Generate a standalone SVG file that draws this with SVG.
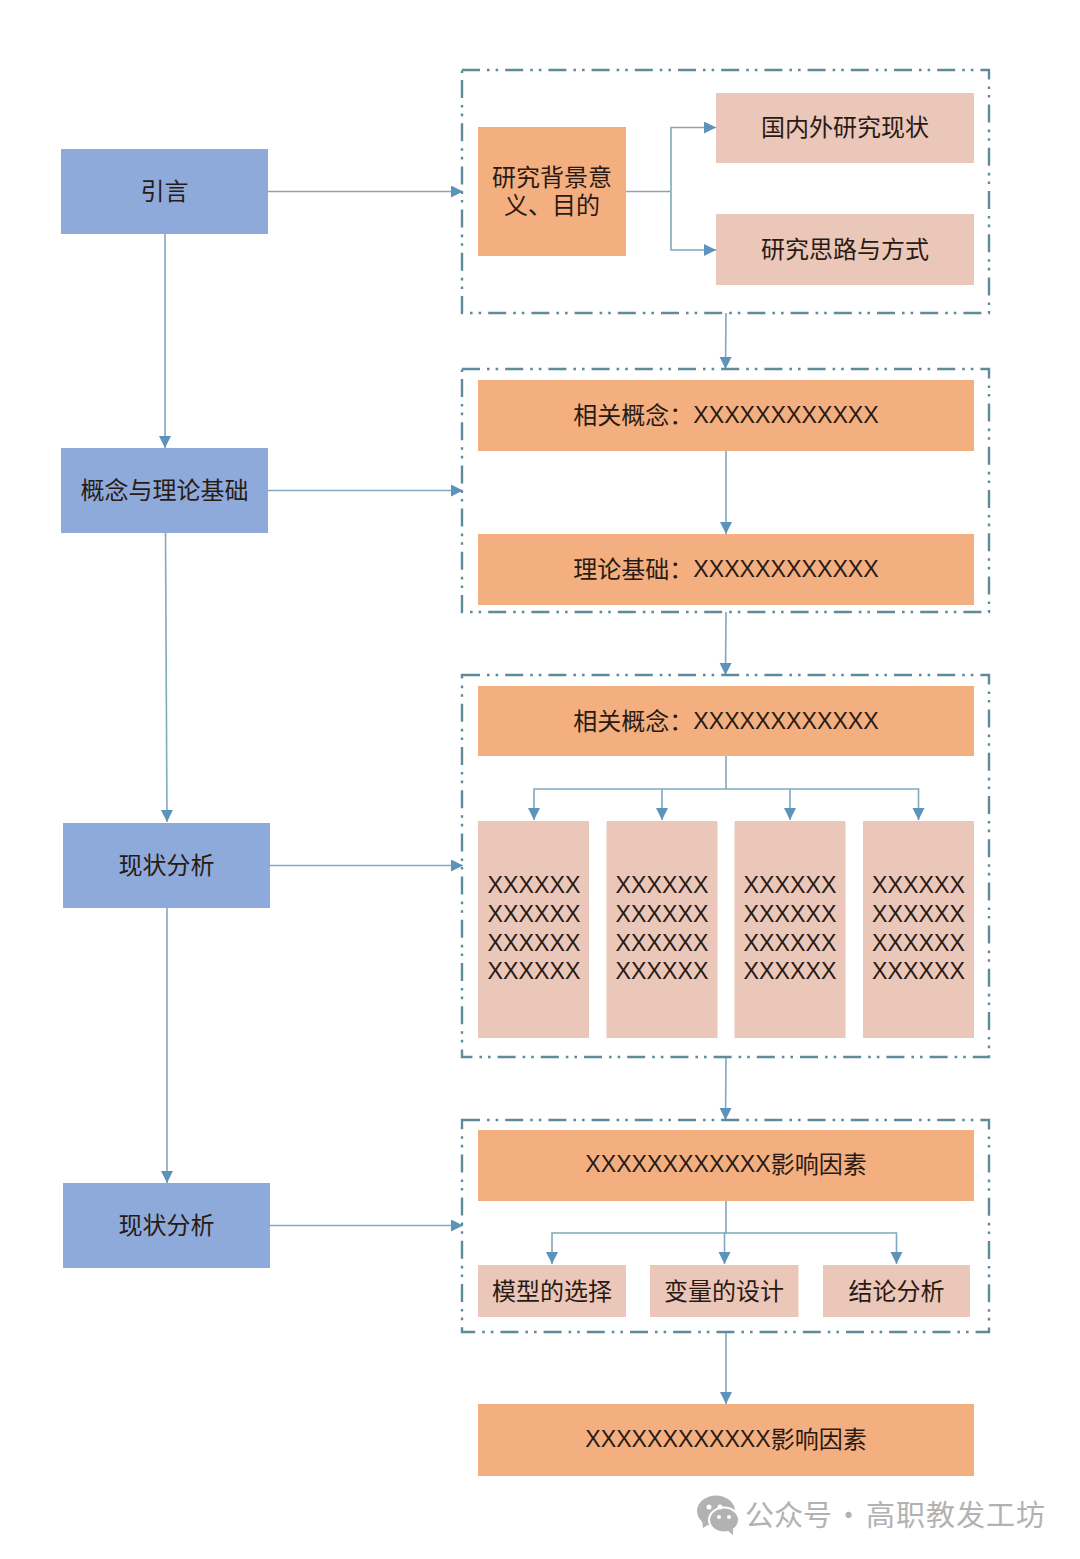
<svg xmlns="http://www.w3.org/2000/svg" width="1080" height="1559" viewBox="0 0 1080 1559">
<style>
text{font-family:"Noto Sans CJK SC","Liberation Sans",sans-serif;font-size:24px;fill:#2a1a14;text-anchor:middle;dominant-baseline:central}
.x{font-family:"Liberation Sans","Noto Sans CJK SC",sans-serif;font-size:23.2px}
.b{fill:#8eaadb}.o{fill:#f3af80}.p{fill:#ebc7ba}
.f{fill:none;stroke:#5f8a99;stroke-width:2.4;stroke-dasharray:18 7 2.6 6 2.6 7}
.c{fill:none;stroke:#7fa9bf;stroke-width:1.6}
.a{marker-end:url(#ah)}
.w{font-size:29px;fill:#b2b2b2;text-anchor:start}
</style>
<defs>
<marker id="ah" markerUnits="userSpaceOnUse" markerWidth="13" markerHeight="13" refX="12" refY="6" orient="auto"><path d="M0 0L12 6L0 12Z" fill="#5c93bb"/></marker>
</defs>
<rect width="1080" height="1559" fill="#fff"/>
<g id="connectors">
<path class="c a" d="M268 191.500H463"/>
<path class="c a" d="M165 234V448"/>
<path class="c a" d="M268 490.500H463"/>
<path class="c a" d="M165.500 533L167 822"/>
<path class="c a" d="M270 865.500H463"/>
<path class="c a" d="M167 908V1183"/>
<path class="c a" d="M270 1225.500H463"/>
<path class="c" d="M626 191.500H671"/>
<path class="c a" d="M671 191.500V127.500H716"/>
<path class="c a" d="M671 191.500V250H716"/>
<path class="c a" d="M726 313L725.500 369"/>
<path class="c a" d="M726 451V534"/>
<path class="c a" d="M726 612L725.500 675"/>
<path class="c" d="M726 756V789"/>
<path class="c a" d="M726 789H534V820"/>
<path class="c a" d="M662 789V820"/>
<path class="c a" d="M790 789V820"/>
<path class="c a" d="M726 789H918.500V820"/>
<path class="c a" d="M726 1057L725.500 1120"/>
<path class="c a" d="M726 1201V1233H724.500V1264"/>
<path class="c a" d="M726 1233H552V1264"/>
<path class="c a" d="M726 1233H896.500V1264"/>
<path class="c a" d="M726 1332V1404"/>
</g>
<g id="frame-1"><rect class="f" x="462" y="70" width="527" height="243"/></g>
<g id="frame-2"><rect class="f" x="462" y="369" width="527" height="243"/></g>
<g id="frame-3"><rect class="f" x="462" y="675" width="527" height="382"/></g>
<g id="frame-4"><rect class="f" x="462" y="1120" width="527" height="212"/></g>
<g id="left-1"><rect class="b" x="61" y="149" width="207" height="85"/><text x="164.500" y="189">引言</text></g>
<g id="left-2"><rect class="b" x="61" y="448" width="207" height="85"/><text x="164.500" y="488">概念与理论基础</text></g>
<g id="left-3"><rect class="b" x="63" y="823" width="207" height="85"/><text x="166.500" y="863">现状分析</text></g>
<g id="left-4"><rect class="b" x="63" y="1183" width="207" height="85"/><text x="166.500" y="1223">现状分析</text></g>
<g id="n-background"><rect class="o" x="478" y="127" width="148" height="129"/><text y="175"><tspan x="552">研究背景意</tspan><tspan x="552" dy="28">义、目的</tspan></text></g>
<g id="n-domestic"><rect class="p" x="716" y="93" width="258" height="70"/><text x="845" y="125">国内外研究现状</text></g>
<g id="n-method"><rect class="p" x="716" y="214" width="258" height="71"/><text x="845" y="247">研究思路与方式</text></g>
<g id="n-concept"><rect class="o" x="478" y="380" width="496" height="71"/><text x="726" y="413">相关概念：<tspan class="x" dy="2">XXXXXXXXXXXX</tspan></text></g>
<g id="n-theory"><rect class="o" x="478" y="534" width="496" height="71"/><text x="726" y="567">理论基础：<tspan class="x" dy="2">XXXXXXXXXXXX</tspan></text></g>
<g id="n-concept-2"><rect class="o" x="478" y="686" width="496" height="70"/><text x="726" y="719">相关概念：<tspan class="x" dy="2">XXXXXXXXXXXX</tspan></text></g>
<g id="n-col-1"><rect class="p" x="478" y="821" width="111" height="217"/><text class="x" x="534" y="885">XXXXXX</text><text class="x" x="534" y="914">XXXXXX</text><text class="x" x="534" y="943">XXXXXX</text><text class="x" x="534" y="971">XXXXXX</text></g>
<g id="n-col-2"><rect class="p" x="606.500" y="821" width="111" height="217"/><text class="x" x="662" y="885">XXXXXX</text><text class="x" x="662" y="914">XXXXXX</text><text class="x" x="662" y="943">XXXXXX</text><text class="x" x="662" y="971">XXXXXX</text></g>
<g id="n-col-3"><rect class="p" x="734.500" y="821" width="111" height="217"/><text class="x" x="790" y="885">XXXXXX</text><text class="x" x="790" y="914">XXXXXX</text><text class="x" x="790" y="943">XXXXXX</text><text class="x" x="790" y="971">XXXXXX</text></g>
<g id="n-col-4"><rect class="p" x="863" y="821" width="111" height="217"/><text class="x" x="918.500" y="885">XXXXXX</text><text class="x" x="918.500" y="914">XXXXXX</text><text class="x" x="918.500" y="943">XXXXXX</text><text class="x" x="918.500" y="971">XXXXXX</text></g>
<g id="n-factor"><rect class="o" x="478" y="1130" width="496" height="71"/><text x="726" y="1164"><tspan class="x">XXXXXXXXXXXX</tspan><tspan dy="-2">影响因素</tspan></text></g>
<g id="n-model"><rect class="p" x="478" y="1265" width="148" height="52"/><text x="552" y="1289">模型的选择</text></g>
<g id="n-variable"><rect class="p" x="650" y="1265" width="148.500" height="52"/><text x="724" y="1289">变量的设计</text></g>
<g id="n-result"><rect class="p" x="823" y="1265" width="147" height="52"/><text x="896.500" y="1289">结论分析</text></g>
<g id="n-factor-2"><rect class="o" x="478" y="1404" width="496" height="72"/><text x="726" y="1439"><tspan class="x">XXXXXXXXXXXX</tspan><tspan dy="-2">影响因素</tspan></text></g>
<g id="watermark">
<path d="M697 1511a19 15.500 0 1 1 38 0a19 15.500 0 0 1-38 0Z" fill="#b2b2b2"/>
<path d="M702 1520l1 8 8-5Z" fill="#b2b2b2"/>
<ellipse cx="724" cy="1520" rx="15" ry="12.500" fill="#b2b2b2" stroke="#fff" stroke-width="2"/>
<path d="M727 1530l6 5 0-7Z" fill="#b2b2b2"/>
<circle cx="709" cy="1507" r="2.500" fill="#fff"/><circle cx="720" cy="1507" r="2.500" fill="#fff"/>
<circle cx="719" cy="1517" r="2" fill="#fff"/><circle cx="729" cy="1517" r="2" fill="#fff"/>
<text class="w" y="1513"><tspan x="745">公众号</tspan><tspan x="834">·</tspan><tspan x="866" letter-spacing="1">高职教发工坊</tspan></text>
</g>
</svg>
